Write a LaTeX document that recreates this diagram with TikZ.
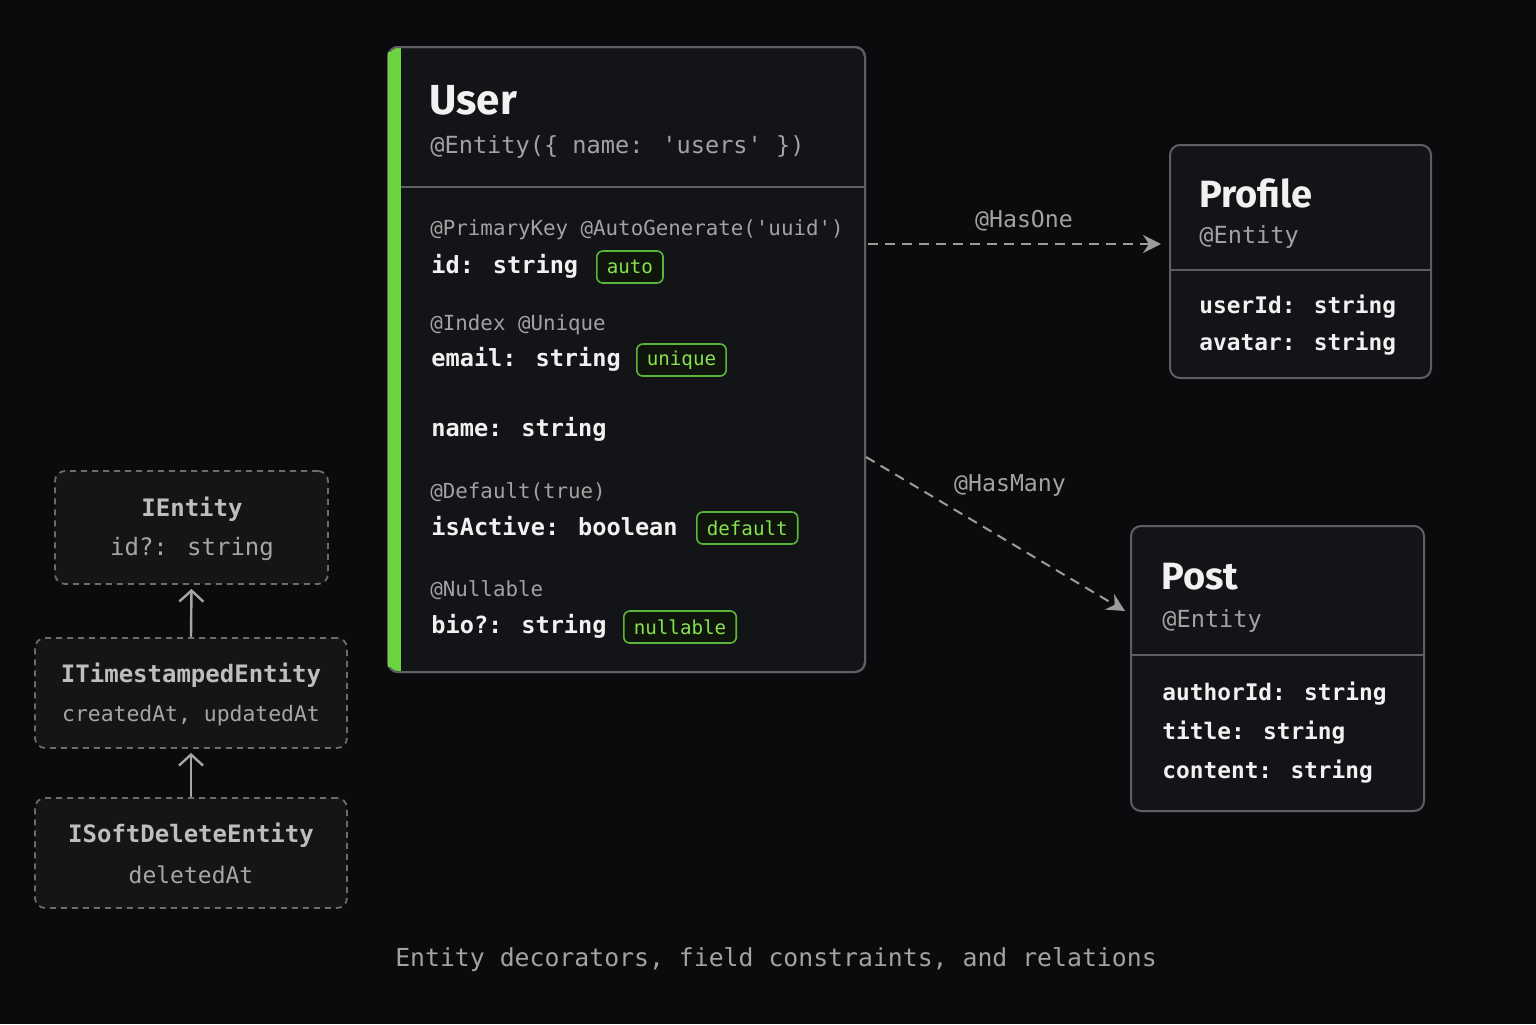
\documentclass[tikz,border=0pt]{standalone}
\usepackage{fontspec}
\usetikzlibrary{arrows.meta}
\newfontfamily\mono{DejaVu Sans Mono}
\newfontfamily\titlefont{Fira Sans}
\definecolor{bg}{HTML}{0A0B0D}
\definecolor{boxfill}{HTML}{131417}
\definecolor{boxline}{HTML}{5E5F62}
\definecolor{accent}{HTML}{6BD43E}
\definecolor{badgeline}{HTML}{5BB539}
\definecolor{badgefill}{HTML}{0F150D}
\definecolor{badgetext}{HTML}{86E24F}
\definecolor{txtwhite}{HTML}{F1F1F1}
\definecolor{txtgray}{HTML}{A2A2A2}
\definecolor{ifill}{HTML}{141517}
\definecolor{iline}{HTML}{6C6C6E}
\definecolor{ititle}{HTML}{BEBEBE}
\definecolor{isub}{HTML}{A6A6A6}
\definecolor{relline}{HTML}{9C9C9C}
\tikzset{
  ebox/.style={draw=boxline, fill=boxfill, line width=1pt, rounded corners=5pt, inner sep=0pt},
  ibox/.style={draw=iline, fill=ifill, line width=0.9pt, dash pattern=on 3pt off 2.5pt, rounded corners=5pt, inner sep=0pt, minimum width=156pt, minimum height=55pt},
  sepline/.style={draw=boxline, line width=1pt},
  ttl/.style={anchor=west, inner sep=0pt, text=txtwhite, font=\titlefont\bfseries\fontsize{19}{22}\selectfont},
  tx/.style={inner sep=0pt, text height=0.75em, text depth=0.25em, yshift=-1.5pt},
  sub/.style={tx, anchor=west, text=txtgray, font=\mono\fontsize{11.8}{14}\selectfont},
  deco/.style={tx, anchor=west, text=txtgray, font=\mono\fontsize{10.4}{12}\selectfont},
  fld/.style={tx, anchor=west, text=txtwhite, font=\mono\bfseries\fontsize{11.8}{14}\selectfont},
  pfld/.style={tx, anchor=west, text=txtwhite, font=\mono\bfseries\fontsize{11.4}{14}\selectfont},
  badge/.style={anchor=west, draw=badgeline, fill=badgefill, line width=0.8pt, rounded corners=3pt, text=badgetext, font=\mono\fontsize{9.6}{11}\selectfont, inner xsep=5pt, inner ysep=0pt, minimum height=16pt},
  ititlestyle/.style={tx, text=ititle, font=\mono\bfseries\fontsize{12}{14}\selectfont},
  isubstyle/.style={tx, text=isub, font=\mono\fontsize{11}{13}\selectfont},
  rel/.style={draw=relline, line width=1pt, dash pattern=on 5pt off 3.5pt, -{Stealth[length=9pt,width=9pt,inset=3pt,fill=relline]}},
  rellabel/.style={tx, text=txtgray, font=\mono\fontsize{11.6}{14}\selectfont},
  iarrow/.style={draw=isub, line width=1.2pt, -{Straight Barb[length=5.5pt,width=12pt]}},
}
\begin{document}
\begin{tikzpicture}[x=0.5pt, y=-0.5pt]
\fill[bg] (0,0) rectangle (1536,1024);
\useasboundingbox (0,0) rectangle (1536,1024);

% ---------- User ----------
\node[ebox, minimum width=238.5pt, minimum height=312.5pt] (user) at (626.5,359.5) {};
\begin{scope}
  \clip[rounded corners=5pt] (388,47) rectangle (865,672);
  \fill[accent] (386,45) rectangle (401,674);
\end{scope}
\draw[boxline, line width=1pt, rounded corners=5pt] (388,47) rectangle (865,672);
\fill[accent] (388,52) rectangle (401,667);
\draw[sepline] (401,187) -- (865,187);
\node[ttl, font=\titlefont\bfseries\fontsize{21}{24}\selectfont] (utitle) at (429,100) {User};
\node[sub] (usub) at (430,145) {@Entity(\{ name: 'users' \})};

\node[deco] (d1) at (430,227) {@PrimaryKey @AutoGenerate('uuid')};
\node[fld] (f1) at (431,265) {id: string};
\node[badge] (b1) at (596,267) {auto};
\node[deco] (d2) at (430,322) {@Index @Unique};
\node[fld] (f2) at (431,358) {email: string};
\node[badge] (b2) at (636,360) {unique};
\node[fld] (f3) at (431,428) {name: string};
\node[deco] (d4) at (430,490) {@Default(true)};
\node[fld] (f4) at (431,527) {isActive: boolean};
\node[badge] (b4) at (696,528) {default};
\node[deco] (d5) at (430,588) {@Nullable};
\node[fld] (f5) at (431,625) {bio?: string};
\node[badge] (b5) at (623,627) {nullable};

% ---------- Profile ----------
\node[ebox, minimum width=130.5pt, minimum height=116.5pt] (profile) at (1300.5,261.5) {};
\draw[sepline] (1170,270) -- (1431,270);
\node[ttl] (ptitle) at (1199,193) {Profile};
\node[sub] (psub) at (1199,235) {@Entity};
\node[pfld] (pf1) at (1199,305) {userId: string};
\node[pfld] (pf2) at (1199,342) {avatar: string};

% ---------- Post ----------
\node[ebox, minimum width=146.5pt, minimum height=142.5pt] (post) at (1277.5,668.5) {};
\draw[sepline] (1131,655) -- (1424,655);
\node[ttl] (qtitle) at (1161,577) {Post};
\node[sub] (qsub) at (1162,619) {@Entity};
\node[pfld] (qf1) at (1162,692) {authorId: string};
\node[pfld] (qf2) at (1162,731) {title: string};
\node[pfld] (qf3) at (1162,770) {content: string};

% ---------- relations ----------
\coordinate (hoA) at (868,244);
\coordinate (hoB) at (1161,244);
\draw[rel] (hoA) -- (hoB);
\node[rellabel] (holabel) at (1024,219) {@HasOne};
\coordinate (hmA) at (866,457);
\coordinate (hmB) at (1125,611);
\draw[rel] (hmA) -- (hmB);
\node[rellabel] (hmlabel) at (1010,483) {@HasMany};

% ---------- interfaces ----------
\node[ibox, minimum width=136.5pt, minimum height=56.5pt] (ient) at (191.5,527.5) {};
\node[ititlestyle] (ientT) at (192,508) {IEntity};
\node[isubstyle, font=\mono\fontsize{12}{14}\selectfont] (ientS) at (192,547) {id?: string};

\node[ibox] (its) at (191,693) {};
\node[ititlestyle] (itsT) at (191,674) {ITimestampedEntity};
\node[isubstyle, font=\mono\fontsize{10.7}{13}\selectfont] (itsS) at (191,713) {createdAt, updatedAt};

\node[ibox] (isd) at (191,853) {};
\node[ititlestyle] (isdT) at (191,834) {ISoftDeleteEntity};
\node[isubstyle, font=\mono\fontsize{11.5}{13}\selectfont] (isdS) at (191,875) {deletedAt};

\draw[iarrow] (its.north) -- ([yshift=-2pt]ient.south);
\draw[iarrow] (isd.north) -- ([yshift=-2pt]its.south);

% ---------- caption ----------
\node[tx, text=txtgray, font=\mono\fontsize{12.4}{15}\selectfont] (caption) at (776,958) {Entity decorators, field constraints, and relations};
\end{tikzpicture}
\end{document}
